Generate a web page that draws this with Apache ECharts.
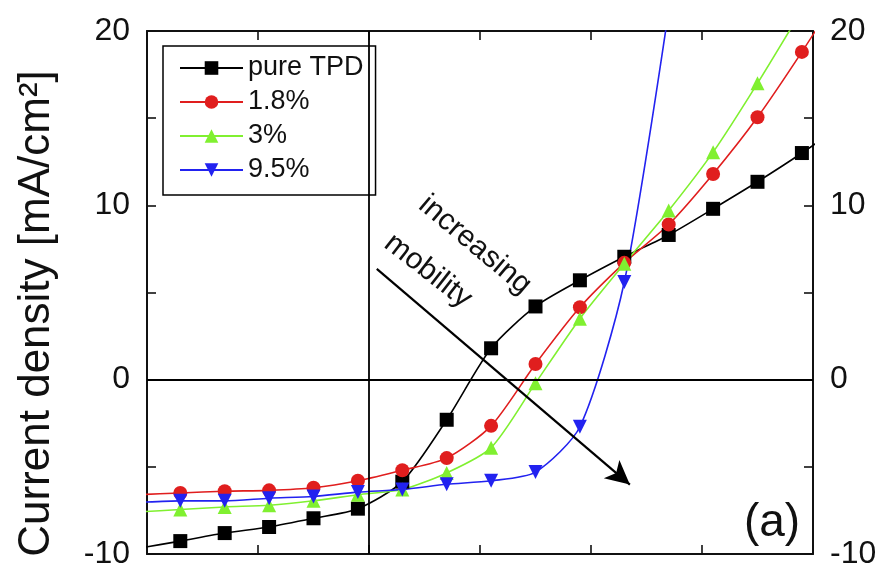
<!DOCTYPE html>
<html>
<head>
<meta charset="utf-8">
<script src="https://cdn.jsdelivr.net/npm/echarts@6/dist/echarts.min.js"></script>
<style>
  html, body { margin: 0; padding: 0; background: #fff; }
  #chart { width: 884px; height: 570px; }
</style>
</head>
<body>
<div id="chart"></div>
<script>
// bias voltage (x) positions of the measured points
const xs = [-2.1, -1.7, -1.3, -0.9, -0.5, -0.1, 0.3, 0.7, 1.1, 1.5, 1.9, 2.3, 2.7, 3.1, 3.5, 3.9, 4.3];
// current density [mA/cm2] for each sample
const pureTPD = [-9.7, -9.26, -8.8, -8.45, -7.95, -7.4, -5.85, -2.3, 1.8, 4.2, 5.7, 7.05, 8.3, 9.8, 11.35, 13.0, 14.8];
const dop18 = [-6.6, -6.5, -6.4, -6.35, -6.2, -5.8, -5.2, -4.5, -2.65, 0.9, 4.15, 6.7, 8.9, 11.8, 15.05, 18.8, 22.8];
const dop3 = [-7.6, -7.45, -7.3, -7.2, -6.95, -6.6, -6.3, -5.35, -3.9, -0.2, 3.5, 6.65, 9.7, 13.05, 17.0, 21.2];
const dop95 = [-7.05, -6.95, -6.95, -6.8, -6.7, -6.45, -6.3, -6.0, -5.8, -5.3, -2.7, 5.6, 21.2];
const seriesNames = ["pure TPD", "1.8%", "3%", "9.5%"];
const yTickLabels = [-10, 0, 10, 20];

const FONT = "'Liberation Sans', Arial, sans-serif";

function pts(ys) {
  return ys.map((y, i) => [xs[i], y]);
}

function mkSeries(name, ys, color, symbol, rotate) {
  return {
    name: name,
    type: "line",
    data: pts(ys),
    smooth: 0.25,
    clip: true,
    symbol: symbol,
    symbolRotate: rotate || 0,
    symbolSize: 14,
    showAllSymbol: true,
    lineStyle: { color: color, width: 1.6 },
    itemStyle: { color: color, borderWidth: 0 },
  };
}

const chart = echarts.init(document.getElementById("chart"));

const yAxisBase = {
  type: "value",
  min: -10,
  max: 20,
  interval: 5,
  splitLine: { show: false },
  axisLine: { show: true, onZero: false, lineStyle: { color: "#111", width: 2 } },
  axisTick: { show: true, inside: true, length: 9, lineStyle: { color: "#111", width: 1.6 } },
  axisLabel: {
    show: true,
    margin: 17,
    color: "#111",
    fontSize: 32,
    fontFamily: FONT,
    formatter: (v) => (yTickLabels.includes(v) ? String(v) : ""),
  },
};

const xAxisBase = {
  type: "value",
  min: -2,
  max: 4,
  interval: 1,
  splitLine: { show: false },
  axisLine: { show: true, onZero: false, lineStyle: { color: "#111", width: 2 } },
  axisTick: { show: true, inside: true, length: 9, lineStyle: { color: "#111", width: 1.6 } },
  axisLabel: { show: false },
};

const black = mkSeries(seriesNames[0], pureTPD, "#000000", "rect");
black.markLine = {
  silent: true,
  animation: false,
  label: { show: false },
  symbol: "none",
  lineStyle: { color: "#000", width: 1.8, type: "solid" },
  data: [
    { yAxis: 0 },
    { xAxis: 0 },
    [
      { coord: [0.07, 6.36], symbol: "none" },
      { coord: [2.35, -6.02], symbol: "arrow", symbolSize: [18, 24], lineStyle: { width: 2.2 } },
    ],
  ],
};

chart.setOption({
  backgroundColor: "#fff",
  animation: false,
  grid: { left: 147, right: 71, top: 31, bottom: 9 },
  xAxis: [
    Object.assign({}, xAxisBase, { position: "bottom" }),
    Object.assign({}, xAxisBase, { position: "top" }),
  ],
  yAxis: [
    Object.assign({}, yAxisBase, {
      position: "left",
      name: "Current density [mA/cm²]",
      nameLocation: "middle",
      nameRotate: 90,
      nameGap: 88,
      nameTextStyle: { fontSize: 44, fontFamily: FONT, color: "#111", padding: [0, 42, 0, 0] },
    }),
    Object.assign({}, yAxisBase, { position: "right" }),
  ],
  legend: {
    data: seriesNames,
    orient: "vertical",
    left: 163,
    top: 46,
    itemWidth: 63,
    itemHeight: 17,
    itemGap: 4,
    padding: [7, 12, 10, 16],
    borderColor: "#000",
    borderWidth: 1.5,
    backgroundColor: "#fff",
    textStyle: { fontSize: 27, fontFamily: FONT, color: "#111", lineHeight: 30 },
  },
  graphic: [
    {
      type: "text",
      x: 475,
      y: 245,
      rotation: (-40 * Math.PI) / 180,
      style: { text: "increasing", font: "30px " + FONT, fill: "#111", align: "center", verticalAlign: "middle" },
    },
    {
      type: "text",
      x: 428,
      y: 271,
      rotation: (-38 * Math.PI) / 180,
      style: { text: "mobility", font: "30px " + FONT, fill: "#111", align: "center", verticalAlign: "middle" },
    },
    {
      type: "text",
      x: 772,
      y: 523,
      style: { text: "(a)", font: "46px " + FONT, fill: "#111", align: "center", verticalAlign: "middle" },
    },
  ],
  series: [
    black,
    mkSeries(seriesNames[1], dop18, "#e01e1e", "circle"),
    mkSeries(seriesNames[2], dop3, "#80f030", "triangle"),
    mkSeries(seriesNames[3], dop95, "#2222f0", "triangle", 180),
  ],
});
</script>
</body>
</html>
